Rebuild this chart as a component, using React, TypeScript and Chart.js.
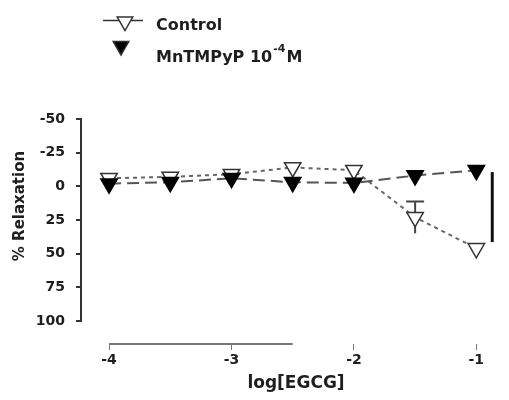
import React, { useEffect, useRef } from "react";
import { Chart, registerables } from "chart.js";

Chart.register(...registerables);

// ---- data ----
const xValues = [-4, -3.5, -3, -2.5, -2, -1.5, -1];
const controlValues = [-6, -7, -9, -14, -12, 23, 46];
const controlErrors = [0, 0, 0, 0, 0, 11.8, 0];
const mnValues = [-2, -3, -6, -3, -2.5, -8, -12];
const yTicks = [-50, -25, 0, 25, 50, 75, 100];
const xTicks = [-4, -3, -2, -1];
const sigBarX = [-0.87];
const sigBarRange = [-10.6, 41.4];
const xAxisLineRange = [-4, -2.5];
const seriesLabels = ["Control", "MnTMPyP 10", "-4", "M"];
const axisTitles = ["log[EGCG]", "% Relaxation"];

const FONT = "'DejaVu Sans', Verdana, sans-serif";
const TEXT = "#1e1e1e";

function tri(ctx: CanvasRenderingContext2D, cx: number, cy: number, r: number) {
  // downward triangle, centroid at (cx, cy)
  ctx.beginPath();
  for (let k = 0; k < 3; k++) {
    const a = Math.PI + (k * 2 * Math.PI) / 3;
    const px = cx + Math.sin(a) * r;
    const py = cy - Math.cos(a) * r;
    if (k === 0) ctx.moveTo(px, py);
    else ctx.lineTo(px, py);
  }
  ctx.closePath();
}

const decor = {
  id: "decor",
  beforeDatasetsDraw(chart: any) {
    const { ctx, scales } = chart;
    const x = scales.x;
    const y = scales.y;
    ctx.save();
    ctx.strokeStyle = "#444";
    ctx.lineWidth = 2;
    xValues.forEach((xv, i) => {
      const e = controlErrors[i];
      if (!e) return;
      const px = x.getPixelForValue(xv);
      const top = y.getPixelForValue(controlValues[i] - e);
      const bot = y.getPixelForValue(controlValues[i] + e);
      ctx.beginPath();
      ctx.moveTo(px, top);
      ctx.lineTo(px, bot);
      ctx.moveTo(px - 9, top);
      ctx.lineTo(px + 9, top);
      ctx.stroke();
    });
    ctx.restore();
  },
  afterDraw(chart: any) {
    const { ctx, scales, chartArea } = chart;
    const x = scales.x;
    const y = scales.y;
    ctx.save();
    // y axis line
    ctx.strokeStyle = "#333";
    ctx.lineWidth = 2;
    ctx.beginPath();
    ctx.moveTo(chartArea.left - 1, y.getPixelForValue(yTicks[0]) - 1);
    ctx.lineTo(chartArea.left - 1, y.getPixelForValue(yTicks[yTicks.length - 1]) + 1);
    ctx.stroke();
    // x axis line (partially visible in the reference)
    ctx.strokeStyle = "#777";
    ctx.lineWidth = 2;
    ctx.beginPath();
    ctx.moveTo(x.getPixelForValue(xAxisLineRange[0]), chartArea.bottom);
    ctx.lineTo(x.getPixelForValue(xAxisLineRange[1]), chartArea.bottom);
    ctx.stroke();
    // significance bar
    ctx.strokeStyle = "#111";
    ctx.lineWidth = 3;
    ctx.beginPath();
    ctx.moveTo(x.getPixelForValue(sigBarX[0]), y.getPixelForValue(sigBarRange[0]));
    ctx.lineTo(x.getPixelForValue(sigBarX[0]), y.getPixelForValue(sigBarRange[1]));
    ctx.stroke();

    // axis titles
    ctx.fillStyle = TEXT;
    ctx.font = `bold 17px ${FONT}`;
    ctx.textAlign = "center";
    ctx.textBaseline = "middle";
    ctx.fillText(axisTitles[0], 296, 384);
    ctx.save();
    ctx.translate(20, 206);
    ctx.rotate(-Math.PI / 2);
    ctx.font = `bold 15px ${FONT}`;
    ctx.fillText(axisTitles[1], 0, 0);
    ctx.restore();

    // legend
    ctx.strokeStyle = "#333";
    ctx.lineWidth = 1.5;
    ctx.beginPath();
    ctx.moveTo(103, 20.5);
    ctx.lineTo(143, 20.5);
    ctx.stroke();
    tri(ctx, 125, 21.5, 9);
    ctx.fillStyle = "#fff";
    ctx.fill();
    ctx.stroke();
    tri(ctx, 121, 46, 9);
    ctx.fillStyle = "#000";
    ctx.fill();
    ctx.stroke();

    ctx.fillStyle = TEXT;
    ctx.textAlign = "left";
    ctx.textBaseline = "alphabetic";
    ctx.font = `bold 16px ${FONT}`;
    ctx.fillText(seriesLabels[0], 156, 30);
    ctx.fillText(seriesLabels[1], 156, 62);
    let tx = 156 + ctx.measureText(seriesLabels[1]).width + 1;
    ctx.font = `bold 11px ${FONT}`;
    ctx.fillText(seriesLabels[2], tx, 52);
    tx += ctx.measureText(seriesLabels[2]).width + 1;
    ctx.font = `bold 16px ${FONT}`;
    ctx.fillText(seriesLabels[3], tx, 62);
    ctx.restore();
  },
};

export default function App() {
  const ref = useRef<HTMLCanvasElement | null>(null);
  useEffect(() => {
    if (!ref.current) return;
    const tickFont = { family: FONT, size: 14, weight: "bold" as const };
    const chart = new Chart(ref.current, {
      type: "line",
      data: {
        datasets: [
          {
            label: seriesLabels[0],
            data: xValues.map((xv, i) => ({ x: xv, y: controlValues[i] })),
            borderColor: "#666",
            borderWidth: 2,
            borderDash: [4, 4],
            pointStyle: "triangle",
            pointRotation: 180,
            pointRadius: 9.5,
            pointBorderWidth: 1.5,
            pointBackgroundColor: "#fff",
            pointBorderColor: "#333",
            order: 1,
          },
          {
            label: seriesLabels[1] + seriesLabels[2] + seriesLabels[3],
            data: xValues.map((xv, i) => ({ x: xv, y: mnValues[i] })),
            borderColor: "#555",
            borderWidth: 2,
            borderDash: [12, 6],
            pointStyle: "triangle",
            pointRotation: 180,
            pointRadius: 9.5,
            pointBorderWidth: 1.5,
            pointBackgroundColor: "#000",
            pointBorderColor: "#000",
            order: 0,
          },
        ],
      },
      options: {
        animation: false,
        responsive: false,
        devicePixelRatio: 1,
        layout: { padding: { top: 119, right: 4, left: 0, bottom: 0 } },
        plugins: { legend: { display: false }, tooltip: { enabled: false } },
        scales: {
          x: {
            type: "linear",
            min: -4.221,
            max: -0.823,
            afterBuildTicks: (s: any) => {
              s.ticks = xTicks.map((v) => ({ value: v }));
            },
            afterFit: (s: any) => {
              s.height = 56;
            },
            grid: { drawOnChartArea: false, drawTicks: true, tickLength: 6, color: "#777", lineWidth: 1 },
            border: { display: false },
            ticks: {
              font: tickFont,
              color: TEXT,
              padding: 2,
              maxRotation: 0,
              autoSkip: false,
              callback: (v: any) => String(v),
            },
          },
          y: {
            type: "linear",
            reverse: true,
            min: -50,
            max: 117.1,
            afterBuildTicks: (s: any) => {
              s.ticks = yTicks.map((v) => ({ value: v }));
            },
            afterFit: (s: any) => {
              s.width = 82;
            },
            grid: { drawOnChartArea: false, drawTicks: true, tickLength: 6, color: "#333", lineWidth: 2 },
            border: { display: false },
            ticks: {
              font: tickFont,
              color: TEXT,
              padding: 11,
              autoSkip: false,
              callback: (v: any) => String(v),
            },
          },
        },
      },
      plugins: [decor],
    });
    return () => chart.destroy();
  }, []);
  return (
    <div style={{ position: "absolute", left: 0, top: 0, width: 509, height: 400, background: "#fff" }}>
      <canvas ref={ref} width={509} height={400} style={{ display: "block", width: 509, height: 400 }} />
    </div>
  );
}
